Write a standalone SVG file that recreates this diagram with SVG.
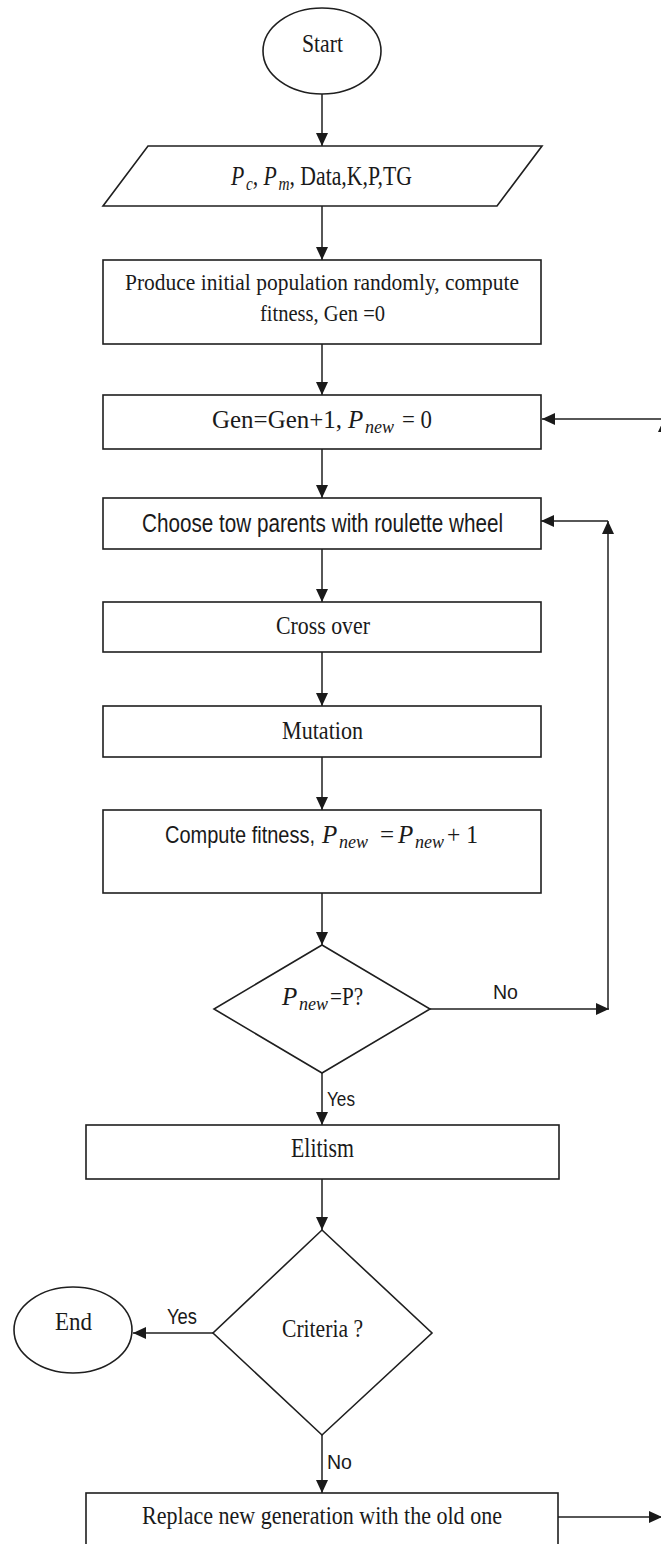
<svg xmlns="http://www.w3.org/2000/svg" width="661" height="1544" viewBox="0 0 661 1544">
<style>
.s{fill:#fff;stroke:#1f1f1f;stroke-width:1.6}
.c{fill:none;stroke:#1f1f1f;stroke-width:1.5}
.t{font-family:"Liberation Serif","Times New Roman",serif;fill:#1a1a1a}
.a{font-family:"Liberation Sans",Arial,sans-serif;fill:#1a1a1a}
.i{font-style:italic}
</style>
<defs>
<marker id="ah" markerUnits="userSpaceOnUse" markerWidth="14" markerHeight="12" refX="13" refY="6" orient="auto">
<path d="M0,0 L13,6 L0,12 z" fill="#1a1a1a"/>
</marker>
</defs>
<rect width="661" height="1544" fill="#fff"/>
<g id="connectors">
<line class="c" x1="322" y1="94" x2="322" y2="146" marker-end="url(#ah)"/>
<line class="c" x1="322" y1="206" x2="322" y2="260" marker-end="url(#ah)"/>
<line class="c" x1="322" y1="344" x2="322" y2="395" marker-end="url(#ah)"/>
<line class="c" x1="322" y1="449" x2="322" y2="498" marker-end="url(#ah)"/>
<line class="c" x1="322" y1="549" x2="322" y2="602" marker-end="url(#ah)"/>
<line class="c" x1="322" y1="652" x2="322" y2="706" marker-end="url(#ah)"/>
<line class="c" x1="322" y1="757" x2="322" y2="810" marker-end="url(#ah)"/>
<line class="c" x1="322" y1="893" x2="322" y2="945" marker-end="url(#ah)"/>
<line class="c" x1="322" y1="1073" x2="322" y2="1125" marker-end="url(#ah)"/>
<line class="c" x1="322" y1="1179" x2="322" y2="1230" marker-end="url(#ah)"/>
<line class="c" x1="322" y1="1435" x2="322" y2="1493" marker-end="url(#ah)"/>
<line class="c" x1="430" y1="1009" x2="609" y2="1009" marker-end="url(#ah)"/>
<line class="c" x1="608" y1="1009" x2="608" y2="521" marker-end="url(#ah)"/>
<line class="c" x1="608" y1="521" x2="541" y2="521" marker-end="url(#ah)"/>
<line class="c" x1="213" y1="1333" x2="133" y2="1333" marker-end="url(#ah)"/>
<line class="c" x1="558" y1="1517" x2="662" y2="1517" marker-end="url(#ah)"/>
<line class="c" x1="664" y1="419" x2="542" y2="419" marker-end="url(#ah)"/>
<polygon points="664,419 658,432 670,432" fill="#1a1a1a"/>
<text class="a" x="493" y="999" font-size="21" textLength="25" lengthAdjust="spacingAndGlyphs">No</text>
<text class="a" x="327" y="1106" font-size="21" textLength="28" lengthAdjust="spacingAndGlyphs">Yes</text>
<text class="a" x="167" y="1324" font-size="22" textLength="30" lengthAdjust="spacingAndGlyphs">Yes</text>
<text class="a" x="327" y="1469" font-size="21" textLength="25" lengthAdjust="spacingAndGlyphs">No</text>
</g>
<g id="start">
<ellipse class="s" cx="322" cy="51" rx="59" ry="43"/>
<text class="t" x="302" y="52" font-size="26" textLength="41" lengthAdjust="spacingAndGlyphs">Start</text>
</g>
<g id="input">
<polygon class="s" points="148,146 542,146 497,206 103,206"/>
<text class="t" x="231" y="185" font-size="27" textLength="181" lengthAdjust="spacingAndGlyphs"><tspan class="i">P</tspan><tspan class="i" font-size="19" dx="2" dy="5">c</tspan><tspan dy="-5">, </tspan><tspan class="i">P</tspan><tspan class="i" font-size="19" dx="2" dy="5">m</tspan><tspan dy="-5">, Data,K,P,TG</tspan></text>
</g>
<g id="init">
<rect class="s" x="103" y="260" width="438" height="84"/>
<text class="t" x="125" y="290" font-size="24" textLength="394" lengthAdjust="spacingAndGlyphs">Produce initial population randomly, compute</text>
<text class="t" x="260" y="321" font-size="24" textLength="125" lengthAdjust="spacingAndGlyphs">fitness, Gen =0</text>
</g>
<g id="gen">
<rect class="s" x="103" y="395" width="438" height="54"/>
<text class="t" x="212" y="428" font-size="25" textLength="130" lengthAdjust="spacingAndGlyphs">Gen=Gen+1,</text>
<text class="t i" x="348" y="428" font-size="25">P</text>
<text class="t i" x="365" y="433" font-size="18">new</text>
<text class="t" x="402" y="428" font-size="25" textLength="30" lengthAdjust="spacingAndGlyphs">= 0</text>
</g>
<g id="choose">
<rect class="s" x="103" y="498" width="438" height="51"/>
<text class="a" x="142" y="532" font-size="25" textLength="361" lengthAdjust="spacingAndGlyphs">Choose tow parents with roulette wheel</text>
</g>
<g id="crossover">
<rect class="s" x="103" y="602" width="438" height="50"/>
<text class="t" x="276" y="634" font-size="26" textLength="94" lengthAdjust="spacingAndGlyphs">Cross over</text>
</g>
<g id="mutation">
<rect class="s" x="103" y="706" width="438" height="51"/>
<text class="t" x="282" y="739" font-size="26" textLength="81" lengthAdjust="spacingAndGlyphs">Mutation</text>
</g>
<g id="compute">
<rect class="s" x="103" y="810" width="438" height="83"/>
<text class="a" x="0" y="0" transform="translate(165,843) scale(1,1.2)" font-size="20" textLength="150" lengthAdjust="spacingAndGlyphs">Compute fitness,</text>
<text class="t i" x="322" y="843" font-size="25">P</text>
<text class="t i" x="339" y="848" font-size="18">new</text>
<text class="t" x="380" y="843" font-size="25">=</text>
<text class="t i" x="398" y="843" font-size="25">P</text>
<text class="t i" x="415" y="848" font-size="18">new</text>
<text class="t" x="447" y="843" font-size="25" textLength="31" lengthAdjust="spacingAndGlyphs">+ 1</text>
</g>
<g id="check">
<polygon class="s" points="322,945 430,1009 322,1073 214,1009"/>
<text class="t i" x="282" y="1005" font-size="25">P</text>
<text class="t i" x="299" y="1010" font-size="18">new</text>
<text class="t" x="330" y="1005" font-size="25" textLength="33" lengthAdjust="spacingAndGlyphs">=P?</text>
</g>
<g id="elitism">
<rect class="s" x="86" y="1125" width="473" height="54"/>
<text class="t" x="291" y="1157" font-size="27" textLength="63" lengthAdjust="spacingAndGlyphs">Elitism</text>
</g>
<g id="criteria">
<polygon class="s" points="322,1230 432,1333 322,1435 213,1333"/>
<text class="t" x="282" y="1337" font-size="26" textLength="81" lengthAdjust="spacingAndGlyphs">Criteria ?</text>
</g>
<g id="end">
<ellipse class="s" cx="73" cy="1330" rx="59" ry="43"/>
<text class="t" x="55" y="1330" font-size="26" textLength="37" lengthAdjust="spacingAndGlyphs">End</text>
</g>
<g id="replace">
<rect class="s" x="86" y="1493" width="472" height="70"/>
<text class="t" x="142" y="1524" font-size="26" textLength="360" lengthAdjust="spacingAndGlyphs">Replace new generation with the old one</text>
</g>
</svg>
